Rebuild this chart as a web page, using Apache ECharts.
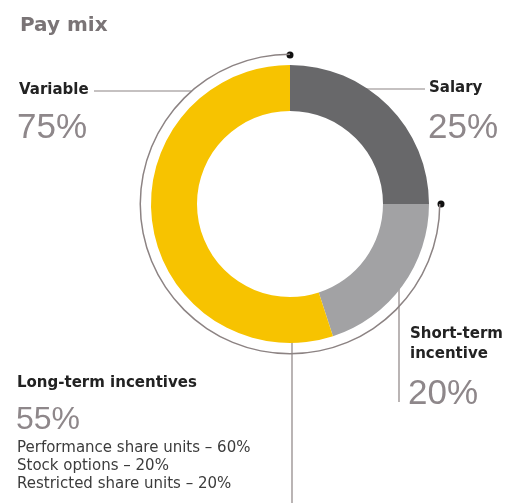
<!DOCTYPE html>
<html>
<head>
<meta charset="utf-8">
<script src="https://cdn.jsdelivr.net/npm/echarts@6/dist/echarts.min.js"></script>
<style>
  html, body { margin: 0; padding: 0; background: #fff; }
  #main { width: 507px; height: 503px; }
</style>
</head>
<body>
<div id="main"></div>
<script>
// 数据
var categories = ['Salary', 'Short-term incentive', 'Long-term incentives'];
var shares = [25, 20, 55];
var ltiParts = ['Performance share units', 'Stock options', 'Restricted share units'];
var ltiShares = [60, 20, 20];

var colors = ['#68686a', '#a2a2a4', '#f7c300'];
var variableShare = shares[1] + shares[2];

// 圆环位置
var cx = 290, cy = 204;
var rIn = 93, rOut = 139, rRing = 150;

var headFont = 'bold 15px "DejaVu Sans"';
var bigFont = '35px "Liberation Sans"';
var lineColor = '#8c8383';
var pctColor = '#8e878a';

function txt(x, y, s, font, color, lh) {
  var st = {text: s, font: font, fill: color};
  if (lh) st.lineHeight = lh;
  return {type: 'text', left: x, top: y, silent: true, style: st};
}
function line(x1, y1, x2, y2) {
  return {type: 'line', silent: true,
    shape: {x1: x1, y1: y1, x2: x2, y2: y2},
    style: {stroke: lineColor, lineWidth: 1.2}};
}
function dot(x, y) {
  return {type: 'circle', silent: true, shape: {cx: x, cy: y, r: 3.5}, style: {fill: '#111'}};
}

var graphics = [
  txt(20, 16, 'Pay mix', 'bold 20px "DejaVu Sans"', '#7a7476'),
  // Variable
  txt(19, 83, 'Variable', headFont, '#222'),
  line(94, 91, cx - Math.sqrt(rRing * rRing - (cy - 91) * (cy - 91)), 91),
  txt(17, 111, variableShare + '%', bigFont, pctColor),
  // Salary
  line(350, 89, 425, 89),
  txt(429, 81, categories[0], headFont, '#222'),
  txt(428, 111, shares[0] + '%', bigFont, pctColor),
  // Short-term incentive
  line(399, 270, 399, 402),
  txt(410, 324, 'Short-term\nincentive', headFont, '#222', 20),
  txt(408, 377, shares[1] + '%', bigFont, pctColor),
  // Long-term incentives
  line(292, 332, 292, 503),
  txt(17, 376, categories[2], headFont, '#222'),
  txt(16, 404, shares[2] + '%', '32px "Liberation Sans"', pctColor),
  dot(cx, cy - rRing + 1),
  dot(cx + rRing + 1, cy)
];
// 长期激励明细
ltiParts.forEach(function (name, i) {
  graphics.push(txt(17, 441 + i * 18, name + ' \u2013 ' + ltiShares[i] + '%',
    '15px "DejaVu Sans"', '#3c3c3c'));
});

var chart = echarts.init(document.getElementById('main'));
chart.setOption({
  animation: false,
  series: [{
    type: 'pie',
    silent: true,
    center: [cx, cy],
    radius: [rIn, rOut],
    startAngle: 90,
    clockwise: true,
    label: {show: false},
    labelLine: {show: false},
    data: categories.map(function (c, i) {
      return {name: c, value: shares[i], itemStyle: {color: colors[i]}};
    })
  }, {
    // 外圈细线 (Variable)
    type: 'pie',
    silent: true,
    center: [cx, cy],
    radius: [rRing - 1, rRing + 0.5],
    startAngle: 90,
    clockwise: true,
    label: {show: false},
    labelLine: {show: false},
    data: [
      {name: 'Fixed', value: shares[0], itemStyle: {color: 'rgba(0,0,0,0)'}},
      {name: 'Variable', value: variableShare, itemStyle: {color: lineColor}}
    ]
  }],
  graphic: graphics
});
</script>
</body>
</html>
